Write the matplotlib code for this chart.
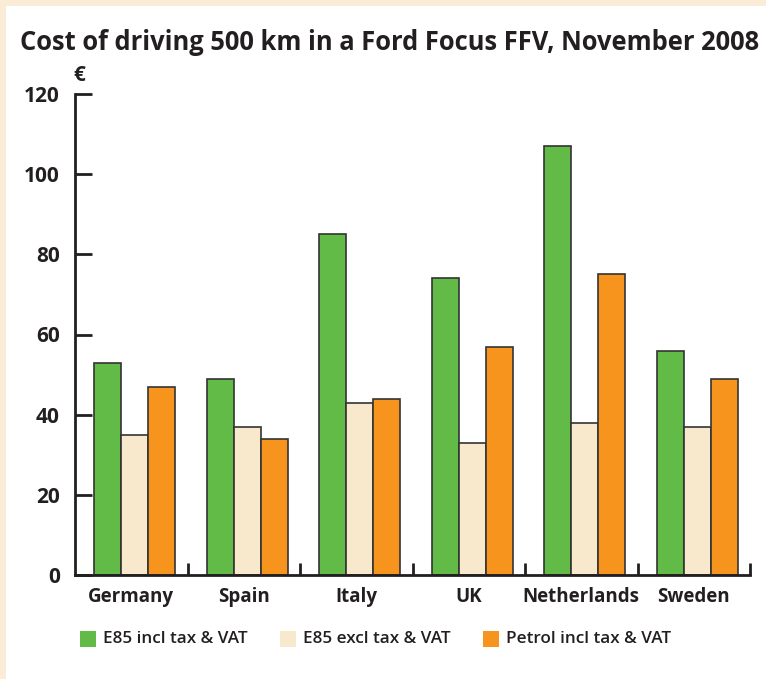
import numpy as np
import matplotlib.pyplot as plt
from matplotlib.patches import Rectangle

plt.rcParams['font.family'] = ['Open Sans', 'DejaVu Sans']

# Data
countries = ["Germany", "Spain", "Italy", "UK", "Netherlands", "Sweden"]
e85_incl = [53, 49, 85, 74, 107, 56]
e85_excl = [35, 37, 43, 33, 38, 37]
petrol_incl = [47, 34, 44, 57, 75, 49]
series_names = ["E85 incl tax & VAT", "E85 excl tax & VAT", "Petrol incl tax & VAT"]
colors = ["#62bb46", "#f8e9cc", "#f7941d"]
yticks = [0, 20, 40, 60, 80, 100, 120]

text_col = "#231f20"
W, H = 766, 679

fig = plt.figure(figsize=(W / 100, H / 100), dpi=100)
# cream frame on top and left
fig.patches.append(Rectangle((0, 0), 1, 1, transform=fig.transFigure,
                             facecolor="#faecd6", edgecolor="none", zorder=-2))
fig.patches.append(Rectangle((6 / W, 0), 1, 1 - 6 / H, transform=fig.transFigure,
                             facecolor="white", edgecolor="none", zorder=-1))

ax = fig.add_axes([75 / W, 1 - 575 / H, 675 / W, (575 - 94) / H])

x = np.arange(len(countries))
w = 0.24
for j, vals in enumerate([e85_incl, e85_excl, petrol_incl]):
    ax.bar(x + 0.53 + (j - 1) * w, vals, width=w, color=colors[j],
           edgecolor="#333333", linewidth=1.2, zorder=2)

ax.set_xlim(0, 6)
ax.set_ylim(0, 120)
ax.set_yticks(yticks)
ax.set_yticklabels([str(t) for t in yticks], fontsize=15, fontweight="bold", color=text_col)
ax.set_xticks(np.arange(1, 7))
ax.set_xticklabels([])
ax.tick_params(axis="y", direction="in", length=12, width=2, color=text_col, pad=11)
ax.tick_params(axis="x", direction="in", length=8.5, width=2, color=text_col)

for s in ["top", "right"]:
    ax.spines[s].set_visible(False)
for s in ["left", "bottom"]:
    ax.spines[s].set_linewidth(2)
    ax.spines[s].set_color(text_col)
ax.patch.set_alpha(0)

for i, c in enumerate(countries):
    ax.text(i + 0.5, -3.0, c, ha="center", va="top", fontsize=13.5,
            fontweight="bold", color=text_col)

ax.text(-0.01, 122, "€", ha="left", va="bottom", fontsize=15,
        fontweight="bold", color=text_col)

fig.text(20 / W, 1 - 50 / H, "Cost of driving 500 km in a Ford Focus FFV, November 2008",
         ha="left", va="baseline", fontsize=18.4, fontweight="bold", color=text_col)

# legend drawn as squares + labels
sq_x = [80, 280, 483]
for name, col, sx in zip(series_names, colors, sq_x):
    fig.patches.append(Rectangle((sx / W, 1 - 647 / H), 16 / W, 16 / H,
                                 transform=fig.transFigure, facecolor=col,
                                 edgecolor="none"))
    fig.text((sx + 23) / W, 1 - 639 / H, name, ha="left", va="center",
             fontsize=12.3, fontweight="semibold", color=text_col)

fig.savefig("out.png", dpi=100)
